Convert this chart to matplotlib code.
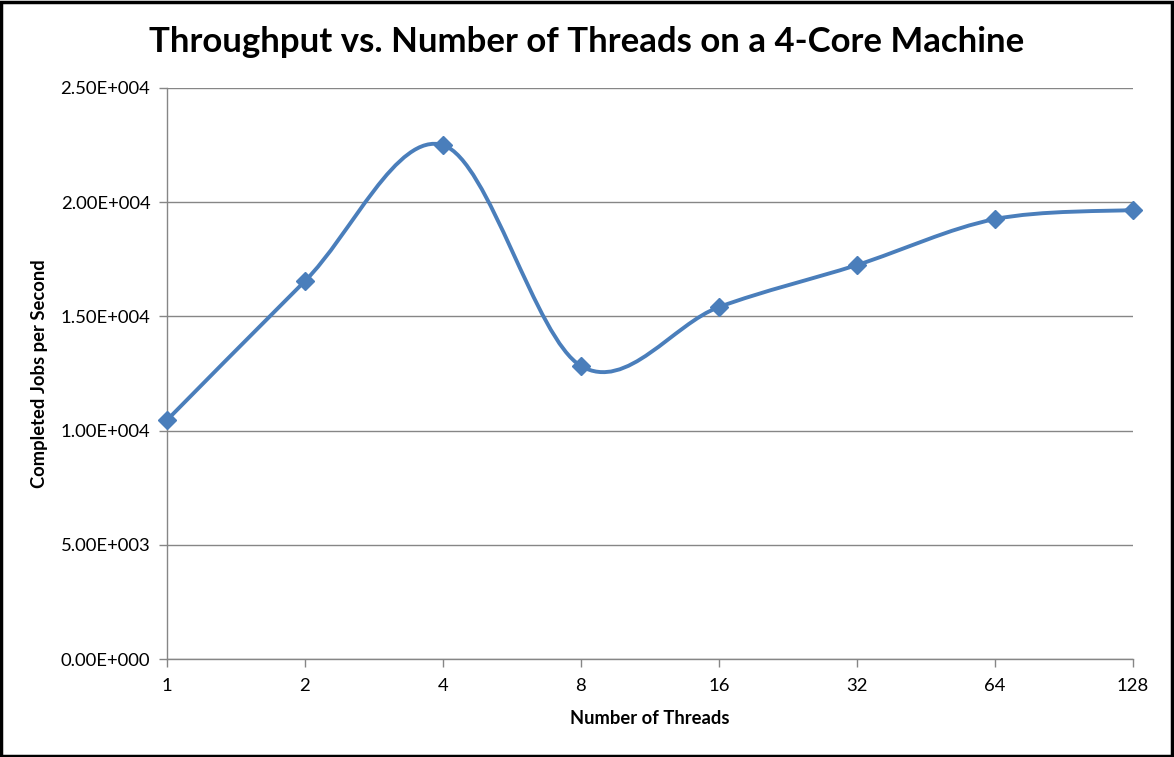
import numpy as np
import matplotlib
matplotlib.use('Agg')
from matplotlib import pyplot as plt
from matplotlib.path import Path
import matplotlib.patches as patches

# data
threads = ['1', '2', '4', '8', '16', '32', '64', '128']
jobs = [10460, 16550, 22500, 12830, 15410, 17250, 19260, 19660]

plt.rcParams['font.family'] = ['Lato', 'DejaVu Sans']

W, H = 1174, 757
fig = plt.figure(figsize=(W / 100, H / 100), dpi=100)
ax = fig.add_axes([167 / W, 1 - 659 / H, (1133 - 167) / W, (659 - 88) / H])

xs = np.arange(len(threads), dtype=float)
ys = np.array(jobs, dtype=float)

# smoothed line like Excel: bezier segments with catmull-rom control points
verts = [(xs[0], ys[0])]
codes = [Path.MOVETO]
n = len(xs)
for i in range(n - 1):
    p0 = np.array([xs[max(i - 1, 0)], ys[max(i - 1, 0)]])
    p1 = np.array([xs[i], ys[i]])
    p2 = np.array([xs[i + 1], ys[i + 1]])
    p3 = np.array([xs[min(i + 2, n - 1)], ys[min(i + 2, n - 1)]])
    c1 = p1 + (p2 - p0) / 6.
    c2 = p2 - (p3 - p1) / 6.
    verts += [tuple(c1), tuple(c2), tuple(p2)]
    codes += [Path.CURVE4] * 3
lijn = patches.PathPatch(Path(verts, codes), facecolor='none', edgecolor='#4A7EBB',
                         lw=2.8, capstyle='round', joinstyle='round', zorder=3, clip_on=False)
ax.add_patch(lijn)
ax.plot(xs, ys, linestyle='none', marker='D', markersize=9.5, color='#4A7EBB',
        zorder=4, clip_on=False)

ax.set_xlim(0, n - 1)
ax.set_ylim(0, 25000)
ax.set_xticks(xs)
ax.set_xticklabels(threads)
yt = np.arange(0, 25001, 5000)
ax.set_yticks(yt)
ax.set_yticklabels(['%.2fE+%03d' % (v / 10 ** (len(str(int(v))) - 1) if v else 0,
                                     (len(str(int(v))) - 1) if v else 0) for v in yt])
ax.grid(axis='y', color='#868686', lw=1)
ax.set_axisbelow(True)
for s in ['top', 'right']:
    ax.spines[s].set_visible(False)
for s in ['left', 'bottom']:
    ax.spines[s].set_color('#868686')
    ax.spines[s].set_linewidth(1)
ax.tick_params(axis='both', color='#868686', length=6, width=1, labelsize=13.3, pad=6)
ax.tick_params(axis='x', pad=8)

ax.set_xlabel('Number of Threads', fontsize=13.2, fontweight='bold', labelpad=11)
ax.set_ylabel('Completed Jobs per Second', fontsize=13.2, fontweight='bold', labelpad=9)
fig.text(587 / W, 1 - 42 / H, 'Throughput vs. Number of Threads on a 4-Core Machine',
         fontsize=25, fontweight='bold', ha='center', va='center')

rand = patches.Rectangle((1 / W, 1 / H), 1 - 3 / W, 1 - 3 / H, transform=fig.transFigure,
                         fill=False, ec='black', lw=2.5)
fig.patches.append(rand)

fig.savefig('out.png', dpi=100)
